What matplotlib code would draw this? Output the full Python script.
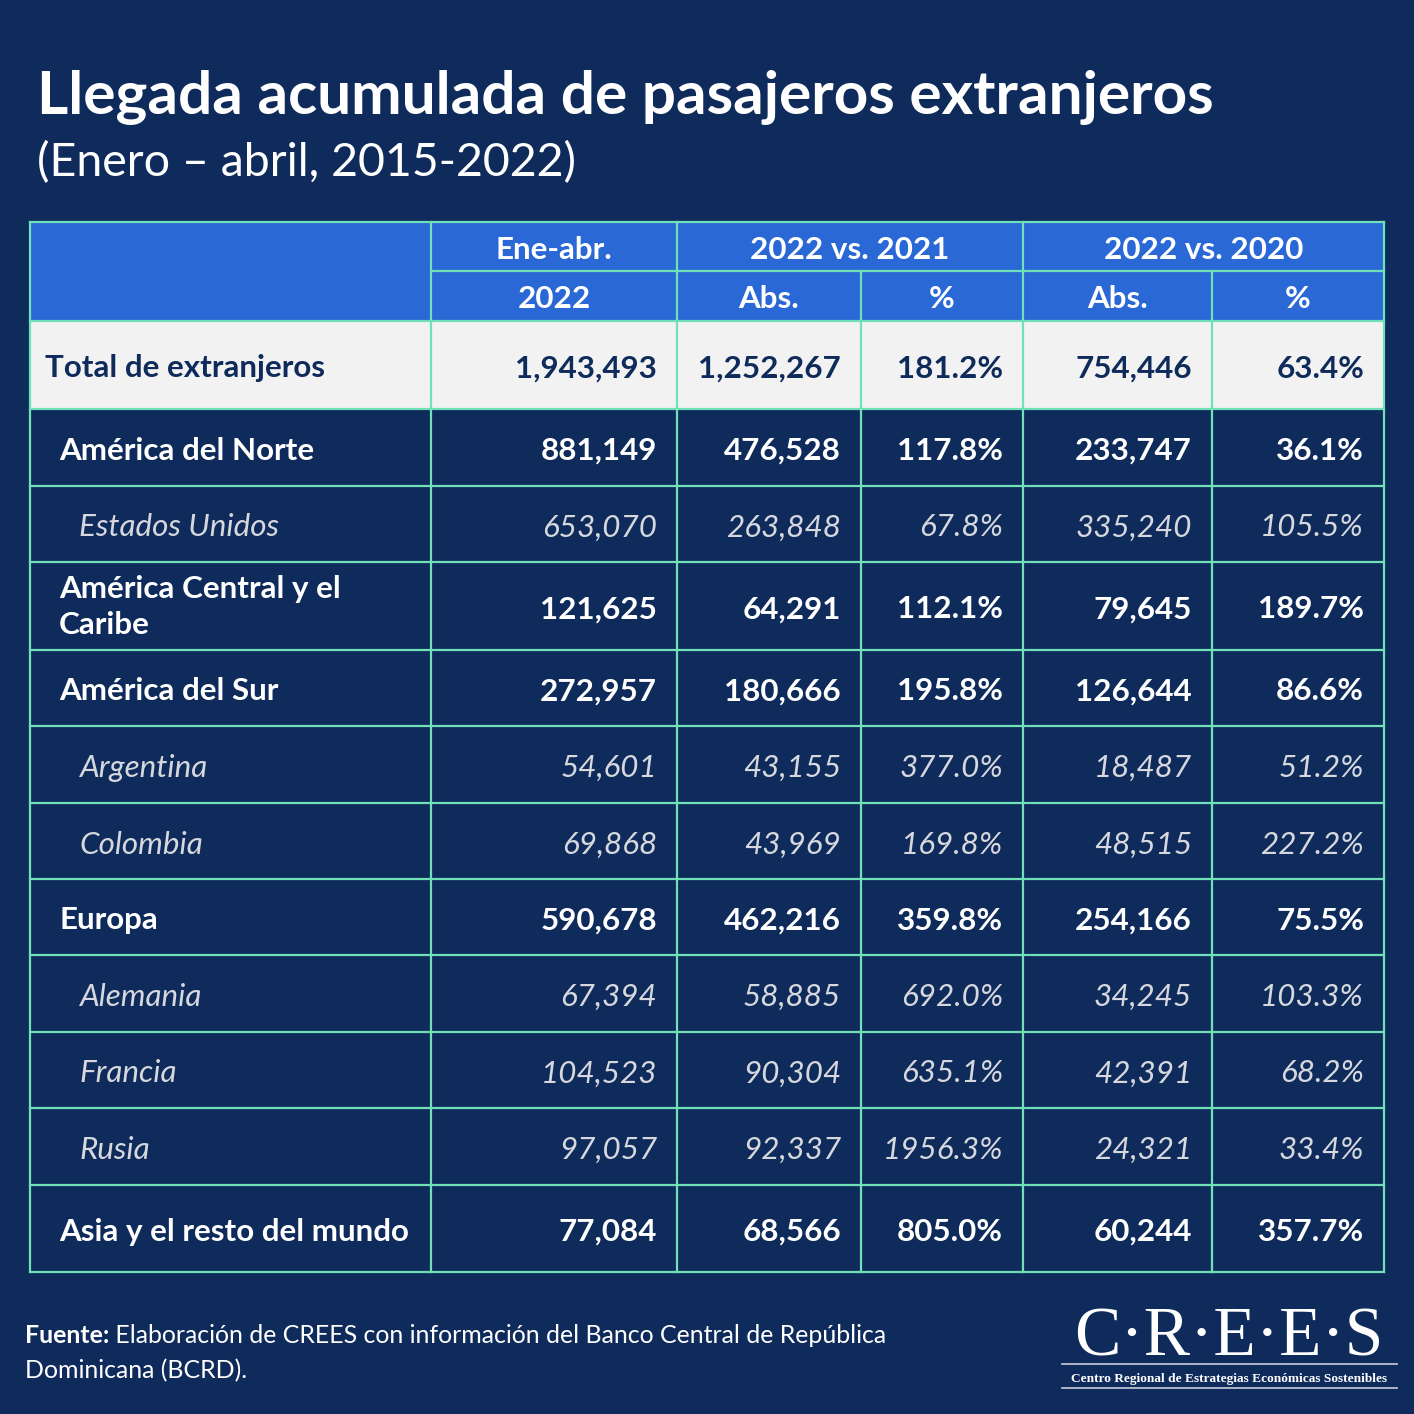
import matplotlib
matplotlib.use("Agg")
import matplotlib.pyplot as plt
from matplotlib.patches import Rectangle

# ---------------- data ----------------
title = "Llegada acumulada de pasajeros extranjeros"
subtitle = "(Enero – abril, 2015-2022)"
header_top = ["Ene-abr.", "2022 vs. 2021", "2022 vs. 2020"]
header_sub = ["2022", "Abs.", "%", "Abs.", "%"]
row_labels = ["Total de extranjeros", "América del Norte", "Estados Unidos",
              "América Central y el\nCaribe", "América del Sur", "Argentina",
              "Colombia", "Europa", "Alemania", "Francia", "Rusia",
              "Asia y el resto del mundo"]
row_kind = ["total", "bold", "italic", "bold", "bold", "italic", "italic",
            "bold", "italic", "italic", "italic", "bold"]
ene_abr_2022 = [1943493, 881149, 653070, 121625, 272957, 54601, 69868,
                590678, 67394, 104523, 97057, 77084]
abs_vs_2021 = [1252267, 476528, 263848, 64291, 180666, 43155, 43969,
               462216, 58885, 90304, 92337, 68566]
pct_vs_2021 = [181.2, 117.8, 67.8, 112.1, 195.8, 377.0, 169.8,
               359.8, 692.0, 635.1, 1956.3, 805.0]
abs_vs_2020 = [754446, 233747, 335240, 79645, 126644, 18487, 48515,
               254166, 34245, 42391, 24321, 60244]
pct_vs_2020 = [63.4, 36.1, 105.5, 189.7, 86.6, 51.2, 227.2,
               75.5, 103.3, 68.2, 33.4, 357.7]
source_bold = "Fuente:"
source_text = (" Elaboración de CREES con información del Banco Central de República",
               "Dominicana (BCRD).")
logo_main = "C·R·E·E·S"
logo_sub = "Centro Regional de Estrategias Económicas Sostenibles"

# ---------------- style / layout ----------------
BG = "#0f2b5b"
HEAD = "#2a68d6"
GRID = "#6fe0b8"
TOTAL_BG = "#f2f2f2"
ITALIC_C = "#d6d8de"
FONT = "Lato"

W = H = 1414
fig = plt.figure(figsize=(W / 100, H / 100), dpi=100, facecolor=BG)
ax = fig.add_axes([0, 0, 1, 1])
ax.set_xlim(0, W)
ax.set_ylim(H, 0)
ax.axis("off")
ax.set_facecolor(BG)

col_x = [30, 431, 677, 861, 1023, 1212, 1384]
row_y = [222, 271, 321, 409, 486, 562, 650, 726, 803, 879, 955, 1032, 1108, 1185, 1272]

# title
ax.text(37, 114, title, fontsize=43.4, fontweight="bold", color="white",
        family=FONT, ha="left", va="baseline")
ax.text(37, 176, subtitle, fontsize=33.5, color="white", family=FONT,
        ha="left", va="baseline")

# header background
ax.add_patch(Rectangle((col_x[0], row_y[0]), col_x[-1] - col_x[0],
                       row_y[2] - row_y[0], facecolor=HEAD, edgecolor="none", zorder=1))
# total row background
ax.add_patch(Rectangle((col_x[0], row_y[2]), col_x[-1] - col_x[0],
                       row_y[3] - row_y[2], facecolor=TOTAL_BG, edgecolor="none", zorder=1))

FS = 22.6
# header texts
spans = [(1, 2), (2, 4), (4, 6)]
for txt, (a, b) in zip(header_top, spans):
    ax.text((col_x[a] + col_x[b]) / 2, (row_y[0] + row_y[1]) / 2 + 1, txt,
            fontsize=FS, fontweight="bold", color="white", family=FONT,
            ha="center", va="center_baseline", zorder=3)
for i, txt in enumerate(header_sub):
    ax.text((col_x[i + 1] + col_x[i + 2]) / 2, (row_y[1] + row_y[2]) / 2 + 1, txt,
            fontsize=FS, fontweight="bold", color="white", family=FONT,
            ha="center", va="center_baseline", zorder=3)

# grid lines
lw = 1.6
for j, y in enumerate(row_y):
    if j == 1:
        ax.plot([col_x[1], col_x[-1]], [y, y], color=GRID, lw=lw, zorder=4)
    else:
        ax.plot([col_x[0], col_x[-1]], [y, y], color=GRID, lw=lw, zorder=4)
for i, x in enumerate(col_x):
    if i in (3, 5):
        ax.plot([x, x], [row_y[1], row_y[-1]], color=GRID, lw=lw, zorder=4)
    else:
        ax.plot([x, x], [row_y[0], row_y[-1]], color=GRID, lw=lw, zorder=4)

# body
pad = 20
for r, label in enumerate(row_labels):
    kind = row_kind[r]
    yc = (row_y[r + 2] + row_y[r + 3]) / 2 + 1
    if kind == "total":
        color, weight, style, lx = BG, "bold", "normal", 45
    elif kind == "bold":
        color, weight, style, lx = "white", "bold", "normal", 59
    else:
        color, weight, style, lx = ITALIC_C, "normal", "italic", 79
    if "\n" in label:
        ax.text(lx, yc, label, fontsize=FS, fontweight=weight, fontstyle=style,
                color=color, family=FONT, ha="left", va="center", linespacing=1.38,
                zorder=3)
    else:
        ax.text(lx, yc, label, fontsize=FS, fontweight=weight, fontstyle=style,
                color=color, family=FONT, ha="left", va="center_baseline",
                zorder=3)
    vals = [f"{ene_abr_2022[r]:,}", f"{abs_vs_2021[r]:,}", f"{pct_vs_2021[r]:.1f}%",
            f"{abs_vs_2020[r]:,}", f"{pct_vs_2020[r]:.1f}%"]
    for c, v in enumerate(vals):
        ax.text(col_x[c + 2] - pad, yc, v, fontsize=FS, fontweight=weight,
                fontstyle=style, color=color, family=FONT, ha="right",
                va="center_baseline", zorder=3)

# source
FSS = 17.9
t = ax.text(25, 1343, source_bold, fontsize=FSS, fontweight="bold", color="white",
            family=FONT, ha="left", va="baseline")
fig.canvas.draw()
bb = t.get_window_extent()
inv = ax.transData.inverted()
x_end = inv.transform((bb.x1, bb.y0))[0]
ax.text(x_end, 1343, source_text[0], fontsize=FSS, color="white", family=FONT,
        ha="left", va="baseline")
ax.text(25, 1378, source_text[1], fontsize=FSS, color="white", family=FONT,
        ha="left", va="baseline")

# logo
ax.text(1229, 1355, logo_main, fontsize=50, color="white", family="Liberation Serif",
        ha="center", va="baseline")
ax.plot([1062, 1397], [1364, 1364], color="#c9cfdb", lw=1.2)
ax.text(1229, 1382, logo_sub, fontsize=9.6, color="white", family="Liberation Serif",
        fontweight="bold", ha="center", va="baseline")
ax.plot([1062, 1397], [1388, 1388], color="#c9cfdb", lw=1.2)

fig.savefig("out.png", dpi=100, facecolor=BG)
